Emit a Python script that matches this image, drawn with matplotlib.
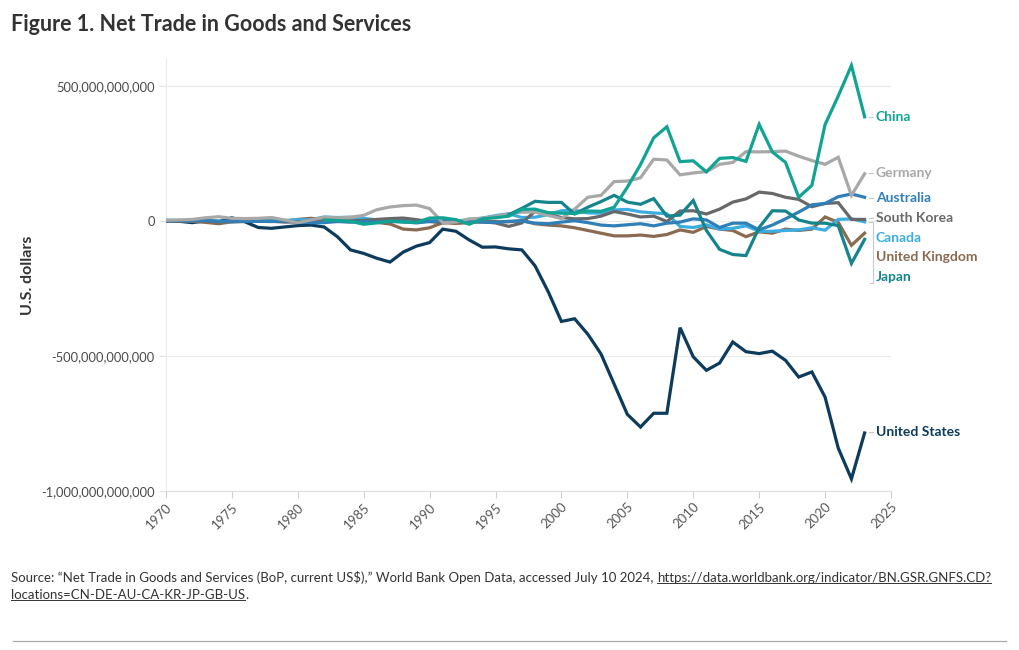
import numpy as np
import matplotlib
matplotlib.use("Agg")
import matplotlib.pyplot as plt
from matplotlib.ticker import FuncFormatter, MultipleLocator

plt.rcParams['font.family'] = ['Lato', 'DejaVu Sans']

# net trade, billions of current US$
years = list(range(1970, 2024))
nan = np.nan

united_states = [2, -1, -6, 1, -2, 12, -3, -24, -27, -22, -17, -15, -22, -58, -107, -120,
                 -138, -152, -115, -93, -80, -30, -38, -70, -97, -96, -103, -107, -166, -262,
                 -372, -362, -419, -492, -604, -716, -763, -712, -712, -395, -503, -553, -526,
                 -448, -484, -491, -482, -516, -578, -559, -652, -841, -955, -785]
china = [nan] * 12 + [4, 2, -1, -12, -7, 0, -4, -5, 11, 12, 5, -12, 8, 12, 18, 43, 44, 31,
                     29, 28, 37, 36, 51, 125, 209, 308, 349, 220, 223, 182, 232, 235, 221,
                     358, 256, 217, 88, 132, 357, 463, 576, 386]
germany = [3, 4, 6, 12, 16, 10, 9, 10, 13, 4, -6, 4, 14, 12, 14, 21, 42, 52, 57, 59, 46, -6,
           -4, 8, 10, 17, 26, 33, 33, 21, 9, 44, 88, 95, 146, 148, 160, 229, 226, 171, 178,
           183, 210, 217, 257, 256, 257, 259, 240, 224, 210, 236, 95, 175]
south_korea = [-1, -1, 0, 0, -2, -2, -1, 0, -1, -4, -4, -3, -1, 0, 1, 2, 6, 9, 11, 5, -2, -7,
               -2, 2, -3, -7, -20, -7, 36, 25, 13, 8, 9, 18, 35, 26, 15, 18, -2, 37, 38, 26,
               44, 70, 82, 107, 102, 88, 80, 53, 65, 68, 6, 6]
canada = [3, 2, 1, 2, 0, -3, -1, 1, 2, 2, 5, 4, 15, 13, 14, 10, 4, 5, 4, -1, 2, -2, 1, 4, 11,
          20, 27, 13, 14, 24, 38, 40, 30, 29, 41, 43, 34, 30, 27, -20, -24, -14, -30, -27,
          -18, -38, -38, -35, -33, -25, -34, 6, 8, -3]
united_kingdom = [1, 2, -1, -5, -10, -3, -2, 1, 2, -1, 6, 10, 5, 0, -3, 2, -5, -11, -30, -33,
                  -25, -6, -9, -6, -3, -2, -3, 2, -10, -15, -18, -25, -35, -45, -55, -55, -52,
                  -57, -50, -33, -42, -20, -30, -35, -58, -40, -45, -30, -35, -30, 15, -5,
                  -90, -45]
australia = [0, 1, 2, 2, -2, 0, -1, -1, -2, 0, -3, -6, -6, -2, -4, -3, -4, -2, -3, -7, -2, 2,
             1, 0, -4, -5, -1, 0, -8, -10, -4, 1, -6, -15, -18, -14, -10, -18, -8, -4, 8, 4,
             -24, -8, -8, -33, -15, 8, 33, 60, 65, 90, 100, 88]
japan = [nan] * 26 + [23, 47, 73, 69, 69, 26, 51, 72, 95, 70, 62, 83, 18, 22, 76, -35, -105,
                      -124, -128, -24, 38, 37, 4, -8, -8, -17, -157, -68]

names = ['China', 'Germany', 'Australia', 'South Korea', 'Canada', 'United Kingdom',
         'Japan', 'United States']
series = [china, germany, australia, south_korea, canada, united_kingdom, japan, united_states]
colors = ['#11a393', '#a8a8a8', '#2f7fb9', '#686868', '#3cade0', '#8a6a51', '#15848c',
          '#0c3b5e']
label_y = [385, 178, 85, 11, -63, -133, -207, -781]

fig = plt.figure(figsize=(10.2, 6.5), dpi=100)
ax = fig.add_axes([0.1627, 0.2446, 0.7108, 0.6646])

# draw order: US and background first, China on top
order = [7, 5, 4, 3, 2, 1, 6, 0]
for i in order:
    vals = np.array(series[i], dtype=float) * 1e9
    ax.plot(years, vals, color=colors[i], lw=2.3, solid_joinstyle='miter', zorder=3)

ax.set_xlim(1970, 2025)
ax.set_ylim(-1000e9, 600e9)
ax.set_yticks([-1000e9, -500e9, 0, 500e9])
ax.yaxis.set_major_formatter(FuncFormatter(lambda v, p: f'{int(round(v)):,}'))
ax.xaxis.set_major_locator(MultipleLocator(5))
ax.tick_params(axis='x', length=5, color='#d0d0d0', labelsize=9.5, labelcolor='#555555',
               labelrotation=45, pad=2)
ax.tick_params(axis='y', length=5, color='#e2e2e2', labelsize=9.3, labelcolor='#4a4a4a', pad=3)
for t in ax.get_xticklabels():
    t.set_ha('right')
    t.set_rotation_mode('anchor')

ax.grid(axis='y', color='#ebebeb', lw=0.9, zorder=0)
for s in ['top', 'right']:
    ax.spines[s].set_visible(False)
ax.spines['left'].set_color('#ebebeb')
ax.spines['bottom'].set_color('#dddddd')

ax.set_ylabel('U.S. dollars', fontsize=11.5, fontweight='bold', color='#333333')
ax.yaxis.set_label_coords(-0.181, 0.5)

# end labels
for name, c, ly in zip(names, colors, label_y):
    ax.text(2023.85, ly * 1e9, name, color=c, fontsize=10, fontweight='bold',
            va='center', ha='left', clip_on=False)
    if name not in ('Canada', 'United Kingdom', 'Japan'):
        ax.plot([2023.3, 2023.6], [ly * 1e9, ly * 1e9], color='#c8c8c8', lw=0.8,
                clip_on=False)
# bracket for the crowded labels
ax.plot([2023.3, 2023.6, 2023.6, 2023.4], [-3e9, -3e9, -230e9, -230e9], color='#c8c8c8',
        lw=0.8, clip_on=False)

fig.text(0.011, 0.963, 'Figure 1. Net Trade in Goods and Services', fontsize=15.5,
         fontweight='bold', color='#333333', va='center')

src1 = 'Source: \u201cNet Trade in Goods and Services (BoP, current US\\$),\u201d World Bank Open Data, accessed July 10 2024, '
url1 = 'https://data.worldbank.org/indicator/BN.GSR.GNFS.CD?'
url2 = 'locations=CN-DE-AU-CA-KR-JP-GB-US'
fs = 9.5
t1 = fig.text(0.011, 0.111, src1, fontsize=fs, color='#333333', va='center')
fig.canvas.draw()
r = fig.canvas.get_renderer()
bb = t1.get_window_extent(r)
x2 = bb.x1 / fig.bbox.width
t2 = fig.text(x2, 0.111, url1, fontsize=fs, color='#333333', va='center')
t3 = fig.text(0.011, 0.085, url2, fontsize=fs, color='#333333', va='center')
fig.canvas.draw()
for t in (t2, t3):
    b = t.get_window_extent(r)
    yy = (b.y0 + 1) / fig.bbox.height
    fig.add_artist(plt.Line2D([b.x0 / fig.bbox.width, b.x1 / fig.bbox.width], [yy, yy],
                              color='#333333', lw=0.7))
b3 = t3.get_window_extent(r)
fig.text(b3.x1 / fig.bbox.width, 0.085, '.', fontsize=fs, color='#333333', va='center')

fig.add_artist(plt.Line2D([0.013, 0.986], [0.014, 0.014], color='#aaaaaa', lw=0.9))

fig.savefig('out.png', dpi=100)
